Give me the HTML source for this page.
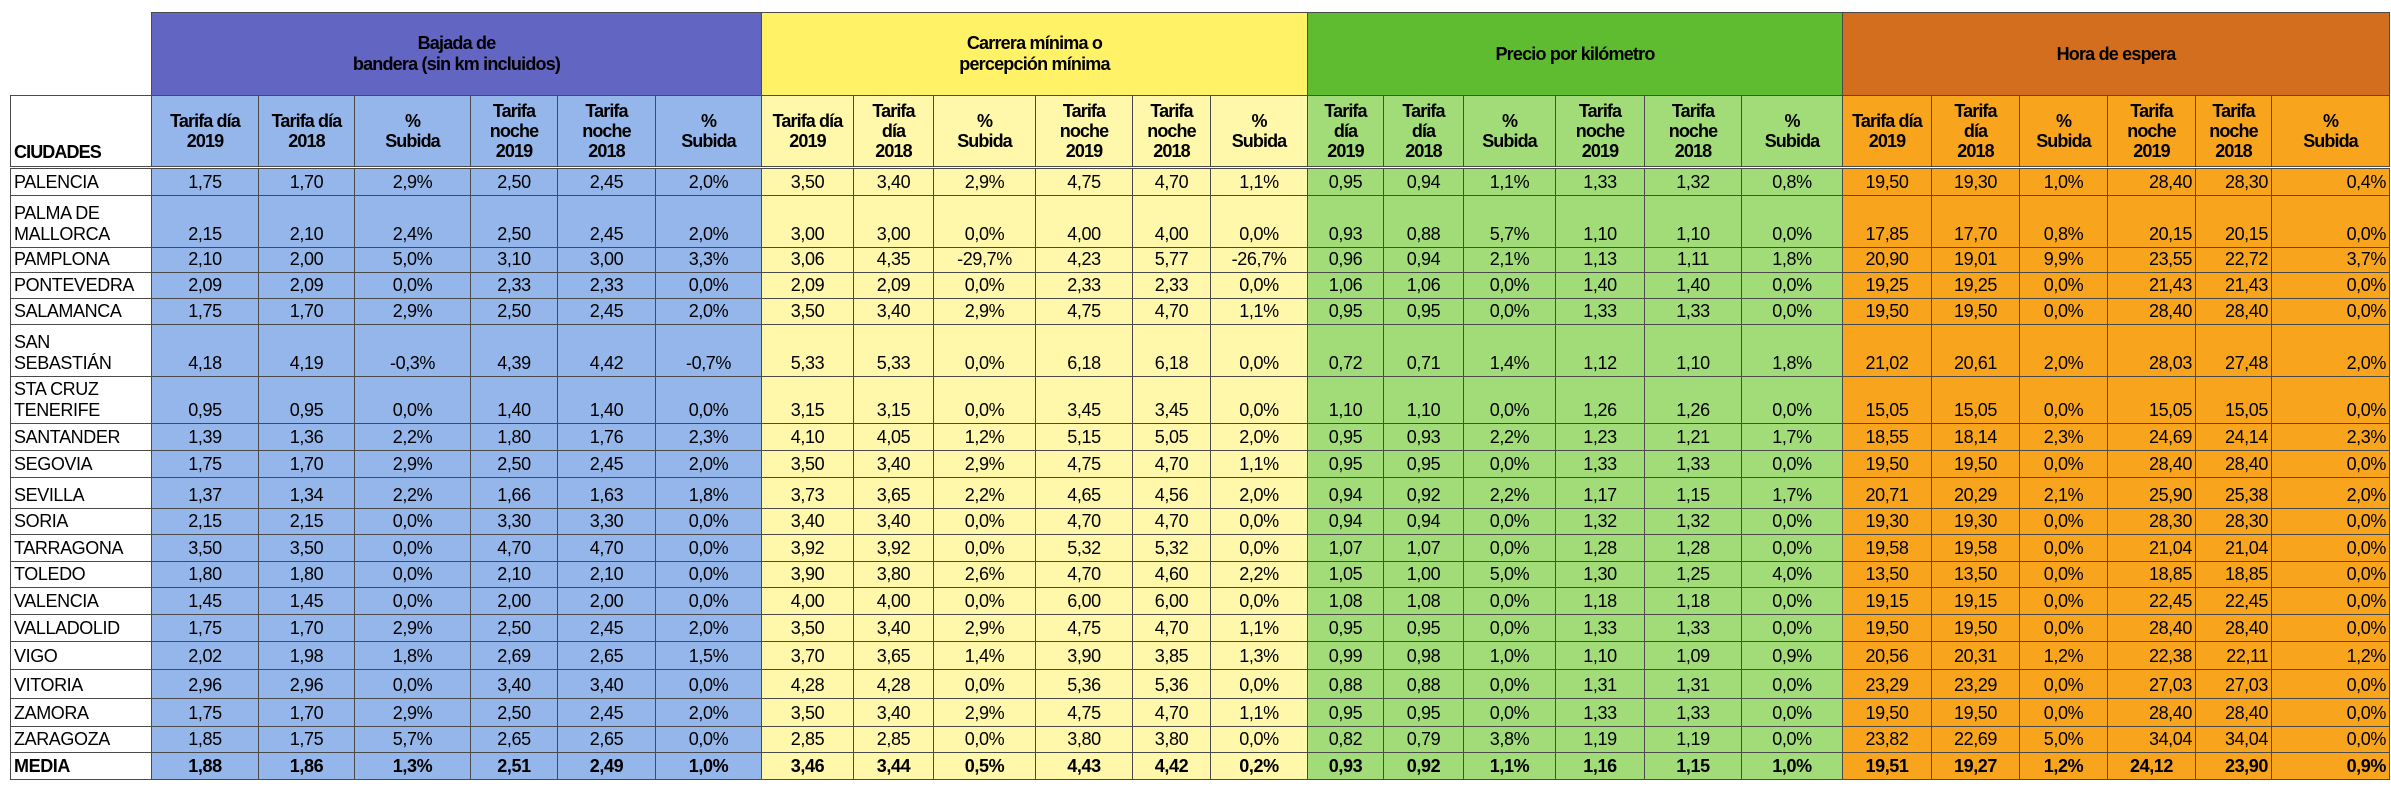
<!DOCTYPE html>
<html><head><meta charset="utf-8">
<style>
html,body{margin:0;padding:0;background:#fff;width:2391px;height:798px;overflow:hidden}
table{position:absolute;left:10px;top:12px;border-collapse:collapse;table-layout:fixed;font-family:"Liberation Sans",Arial,sans-serif;font-size:18px;letter-spacing:-0.4px;color:#000}
td{border:1.5px solid #4a4a4a;padding:0 3px 2px 3px;vertical-align:bottom;text-align:center;line-height:21px;white-space:nowrap;overflow:hidden}
td.c{text-align:left;background:#fff;white-space:nowrap}
tr.g td{height:82px;vertical-align:middle;font-weight:bold;font-size:18px;letter-spacing:-0.8px;padding:0}
tr.h td{height:66px;vertical-align:middle;font-weight:bold;font-size:18px;letter-spacing:-0.9px;line-height:20px;padding:0;border-bottom:3.5px double #4a4a4a}
tr.h td.c{vertical-align:bottom;padding:0 3px 4px 3px}
.b{background:#95b6ea}.y{background:#fff7a9}.gr{background:#a1dc79}.o{background:#f8a51d}
.B{background:#6265c2}.Y{background:#fff266}.G{background:#5fbc31}.O{background:#d46e1f}
td.r{text-align:right}
tr.m td{font-weight:bold}
</style></head><body>
<table>
<colgroup>
<col style="width:141px"><col style="width:107px"><col style="width:96px"><col style="width:116px"><col style="width:87px"><col style="width:98px"><col style="width:106px">
<col style="width:92px"><col style="width:80px"><col style="width:102px"><col style="width:97px"><col style="width:78px"><col style="width:97px">
<col style="width:76px"><col style="width:80px"><col style="width:92px"><col style="width:89px"><col style="width:97px"><col style="width:101px">
<col style="width:89px"><col style="width:88px"><col style="width:88px"><col style="width:88px"><col style="width:76px"><col style="width:118px">
</colgroup>
<tr class="g"><td style="border:none;background:#fff"></td><td colspan="6" class="B">Bajada de<br>bandera (sin km incluidos)</td><td colspan="6" class="Y">Carrera mínima o<br>percepción mínima</td><td colspan="6" class="G">Precio por kilómetro</td><td colspan="6" class="O">Hora de espera</td></tr>
<tr class="h"><td class="c">CIUDADES</td>
<td class="b">Tarifa día<br>2019</td><td class="b">Tarifa día<br>2018</td><td class="b">%<br>Subida</td><td class="b">Tarifa<br>noche<br>2019</td><td class="b">Tarifa<br>noche<br>2018</td><td class="b">%<br>Subida</td>
<td class="y">Tarifa día<br>2019</td><td class="y">Tarifa<br>día<br>2018</td><td class="y">%<br>Subida</td><td class="y">Tarifa<br>noche<br>2019</td><td class="y">Tarifa<br>noche<br>2018</td><td class="y">%<br>Subida</td>
<td class="gr">Tarifa<br>día<br>2019</td><td class="gr">Tarifa<br>día<br>2018</td><td class="gr">%<br>Subida</td><td class="gr">Tarifa<br>noche<br>2019</td><td class="gr">Tarifa<br>noche<br>2018</td><td class="gr">%<br>Subida</td>
<td class="o">Tarifa día<br>2019</td><td class="o">Tarifa<br>día<br>2018</td><td class="o">%<br>Subida</td><td class="o">Tarifa<br>noche<br>2019</td><td class="o">Tarifa<br>noche<br>2018</td><td class="o">%<br>Subida</td></tr>
<tr style="height:28px"><td class="c">PALENCIA</td><td class="b">1,75</td><td class="b">1,70</td><td class="b">2,9%</td><td class="b">2,50</td><td class="b">2,45</td><td class="b">2,0%</td><td class="y">3,50</td><td class="y">3,40</td><td class="y">2,9%</td><td class="y">4,75</td><td class="y">4,70</td><td class="y">1,1%</td><td class="gr">0,95</td><td class="gr">0,94</td><td class="gr">1,1%</td><td class="gr">1,33</td><td class="gr">1,32</td><td class="gr">0,8%</td><td class="o">19,50</td><td class="o">19,30</td><td class="o">1,0%</td><td class="o r">28,40</td><td class="o r">28,30</td><td class="o r">0,4%</td></tr>
<tr style="height:52px"><td class="c">PALMA DE<br>MALLORCA</td><td class="b">2,15</td><td class="b">2,10</td><td class="b">2,4%</td><td class="b">2,50</td><td class="b">2,45</td><td class="b">2,0%</td><td class="y">3,00</td><td class="y">3,00</td><td class="y">0,0%</td><td class="y">4,00</td><td class="y">4,00</td><td class="y">0,0%</td><td class="gr">0,93</td><td class="gr">0,88</td><td class="gr">5,7%</td><td class="gr">1,10</td><td class="gr">1,10</td><td class="gr">0,0%</td><td class="o">17,85</td><td class="o">17,70</td><td class="o">0,8%</td><td class="o r">20,15</td><td class="o r">20,15</td><td class="o r">0,0%</td></tr>
<tr style="height:25px"><td class="c">PAMPLONA</td><td class="b">2,10</td><td class="b">2,00</td><td class="b">5,0%</td><td class="b">3,10</td><td class="b">3,00</td><td class="b">3,3%</td><td class="y">3,06</td><td class="y">4,35</td><td class="y">-29,7%</td><td class="y">4,23</td><td class="y">5,77</td><td class="y">-26,7%</td><td class="gr">0,96</td><td class="gr">0,94</td><td class="gr">2,1%</td><td class="gr">1,13</td><td class="gr">1,11</td><td class="gr">1,8%</td><td class="o">20,90</td><td class="o">19,01</td><td class="o">9,9%</td><td class="o r">23,55</td><td class="o r">22,72</td><td class="o r">3,7%</td></tr>
<tr style="height:26px"><td class="c">PONTEVEDRA</td><td class="b">2,09</td><td class="b">2,09</td><td class="b">0,0%</td><td class="b">2,33</td><td class="b">2,33</td><td class="b">0,0%</td><td class="y">2,09</td><td class="y">2,09</td><td class="y">0,0%</td><td class="y">2,33</td><td class="y">2,33</td><td class="y">0,0%</td><td class="gr">1,06</td><td class="gr">1,06</td><td class="gr">0,0%</td><td class="gr">1,40</td><td class="gr">1,40</td><td class="gr">0,0%</td><td class="o">19,25</td><td class="o">19,25</td><td class="o">0,0%</td><td class="o r">21,43</td><td class="o r">21,43</td><td class="o r">0,0%</td></tr>
<tr style="height:26px"><td class="c">SALAMANCA</td><td class="b">1,75</td><td class="b">1,70</td><td class="b">2,9%</td><td class="b">2,50</td><td class="b">2,45</td><td class="b">2,0%</td><td class="y">3,50</td><td class="y">3,40</td><td class="y">2,9%</td><td class="y">4,75</td><td class="y">4,70</td><td class="y">1,1%</td><td class="gr">0,95</td><td class="gr">0,95</td><td class="gr">0,0%</td><td class="gr">1,33</td><td class="gr">1,33</td><td class="gr">0,0%</td><td class="o">19,50</td><td class="o">19,50</td><td class="o">0,0%</td><td class="o r">28,40</td><td class="o r">28,40</td><td class="o r">0,0%</td></tr>
<tr style="height:52px"><td class="c">SAN<br>SEBASTIÁN</td><td class="b">4,18</td><td class="b">4,19</td><td class="b">-0,3%</td><td class="b">4,39</td><td class="b">4,42</td><td class="b">-0,7%</td><td class="y">5,33</td><td class="y">5,33</td><td class="y">0,0%</td><td class="y">6,18</td><td class="y">6,18</td><td class="y">0,0%</td><td class="gr">0,72</td><td class="gr">0,71</td><td class="gr">1,4%</td><td class="gr">1,12</td><td class="gr">1,10</td><td class="gr">1,8%</td><td class="o">21,02</td><td class="o">20,61</td><td class="o">2,0%</td><td class="o r">28,03</td><td class="o r">27,48</td><td class="o r">2,0%</td></tr>
<tr style="height:47px"><td class="c">STA CRUZ<br>TENERIFE</td><td class="b">0,95</td><td class="b">0,95</td><td class="b">0,0%</td><td class="b">1,40</td><td class="b">1,40</td><td class="b">0,0%</td><td class="y">3,15</td><td class="y">3,15</td><td class="y">0,0%</td><td class="y">3,45</td><td class="y">3,45</td><td class="y">0,0%</td><td class="gr">1,10</td><td class="gr">1,10</td><td class="gr">0,0%</td><td class="gr">1,26</td><td class="gr">1,26</td><td class="gr">0,0%</td><td class="o">15,05</td><td class="o">15,05</td><td class="o">0,0%</td><td class="o r">15,05</td><td class="o r">15,05</td><td class="o r">0,0%</td></tr>
<tr style="height:27px"><td class="c">SANTANDER</td><td class="b">1,39</td><td class="b">1,36</td><td class="b">2,2%</td><td class="b">1,80</td><td class="b">1,76</td><td class="b">2,3%</td><td class="y">4,10</td><td class="y">4,05</td><td class="y">1,2%</td><td class="y">5,15</td><td class="y">5,05</td><td class="y">2,0%</td><td class="gr">0,95</td><td class="gr">0,93</td><td class="gr">2,2%</td><td class="gr">1,23</td><td class="gr">1,21</td><td class="gr">1,7%</td><td class="o">18,55</td><td class="o">18,14</td><td class="o">2,3%</td><td class="o r">24,69</td><td class="o r">24,14</td><td class="o r">2,3%</td></tr>
<tr style="height:27px"><td class="c">SEGOVIA</td><td class="b">1,75</td><td class="b">1,70</td><td class="b">2,9%</td><td class="b">2,50</td><td class="b">2,45</td><td class="b">2,0%</td><td class="y">3,50</td><td class="y">3,40</td><td class="y">2,9%</td><td class="y">4,75</td><td class="y">4,70</td><td class="y">1,1%</td><td class="gr">0,95</td><td class="gr">0,95</td><td class="gr">0,0%</td><td class="gr">1,33</td><td class="gr">1,33</td><td class="gr">0,0%</td><td class="o">19,50</td><td class="o">19,50</td><td class="o">0,0%</td><td class="o r">28,40</td><td class="o r">28,40</td><td class="o r">0,0%</td></tr>
<tr style="height:31px"><td class="c">SEVILLA</td><td class="b">1,37</td><td class="b">1,34</td><td class="b">2,2%</td><td class="b">1,66</td><td class="b">1,63</td><td class="b">1,8%</td><td class="y">3,73</td><td class="y">3,65</td><td class="y">2,2%</td><td class="y">4,65</td><td class="y">4,56</td><td class="y">2,0%</td><td class="gr">0,94</td><td class="gr">0,92</td><td class="gr">2,2%</td><td class="gr">1,17</td><td class="gr">1,15</td><td class="gr">1,7%</td><td class="o">20,71</td><td class="o">20,29</td><td class="o">2,1%</td><td class="o r">25,90</td><td class="o r">25,38</td><td class="o r">2,0%</td></tr>
<tr style="height:26px"><td class="c">SORIA</td><td class="b">2,15</td><td class="b">2,15</td><td class="b">0,0%</td><td class="b">3,30</td><td class="b">3,30</td><td class="b">0,0%</td><td class="y">3,40</td><td class="y">3,40</td><td class="y">0,0%</td><td class="y">4,70</td><td class="y">4,70</td><td class="y">0,0%</td><td class="gr">0,94</td><td class="gr">0,94</td><td class="gr">0,0%</td><td class="gr">1,32</td><td class="gr">1,32</td><td class="gr">0,0%</td><td class="o">19,30</td><td class="o">19,30</td><td class="o">0,0%</td><td class="o r">28,30</td><td class="o r">28,30</td><td class="o r">0,0%</td></tr>
<tr style="height:27px"><td class="c">TARRAGONA</td><td class="b">3,50</td><td class="b">3,50</td><td class="b">0,0%</td><td class="b">4,70</td><td class="b">4,70</td><td class="b">0,0%</td><td class="y">3,92</td><td class="y">3,92</td><td class="y">0,0%</td><td class="y">5,32</td><td class="y">5,32</td><td class="y">0,0%</td><td class="gr">1,07</td><td class="gr">1,07</td><td class="gr">0,0%</td><td class="gr">1,28</td><td class="gr">1,28</td><td class="gr">0,0%</td><td class="o">19,58</td><td class="o">19,58</td><td class="o">0,0%</td><td class="o r">21,04</td><td class="o r">21,04</td><td class="o r">0,0%</td></tr>
<tr style="height:26px"><td class="c">TOLEDO</td><td class="b">1,80</td><td class="b">1,80</td><td class="b">0,0%</td><td class="b">2,10</td><td class="b">2,10</td><td class="b">0,0%</td><td class="y">3,90</td><td class="y">3,80</td><td class="y">2,6%</td><td class="y">4,70</td><td class="y">4,60</td><td class="y">2,2%</td><td class="gr">1,05</td><td class="gr">1,00</td><td class="gr">5,0%</td><td class="gr">1,30</td><td class="gr">1,25</td><td class="gr">4,0%</td><td class="o">13,50</td><td class="o">13,50</td><td class="o">0,0%</td><td class="o r">18,85</td><td class="o r">18,85</td><td class="o r">0,0%</td></tr>
<tr style="height:27px"><td class="c">VALENCIA</td><td class="b">1,45</td><td class="b">1,45</td><td class="b">0,0%</td><td class="b">2,00</td><td class="b">2,00</td><td class="b">0,0%</td><td class="y">4,00</td><td class="y">4,00</td><td class="y">0,0%</td><td class="y">6,00</td><td class="y">6,00</td><td class="y">0,0%</td><td class="gr">1,08</td><td class="gr">1,08</td><td class="gr">0,0%</td><td class="gr">1,18</td><td class="gr">1,18</td><td class="gr">0,0%</td><td class="o">19,15</td><td class="o">19,15</td><td class="o">0,0%</td><td class="o r">22,45</td><td class="o r">22,45</td><td class="o r">0,0%</td></tr>
<tr style="height:27px"><td class="c">VALLADOLID</td><td class="b">1,75</td><td class="b">1,70</td><td class="b">2,9%</td><td class="b">2,50</td><td class="b">2,45</td><td class="b">2,0%</td><td class="y">3,50</td><td class="y">3,40</td><td class="y">2,9%</td><td class="y">4,75</td><td class="y">4,70</td><td class="y">1,1%</td><td class="gr">0,95</td><td class="gr">0,95</td><td class="gr">0,0%</td><td class="gr">1,33</td><td class="gr">1,33</td><td class="gr">0,0%</td><td class="o">19,50</td><td class="o">19,50</td><td class="o">0,0%</td><td class="o r">28,40</td><td class="o r">28,40</td><td class="o r">0,0%</td></tr>
<tr style="height:28px"><td class="c">VIGO</td><td class="b">2,02</td><td class="b">1,98</td><td class="b">1,8%</td><td class="b">2,69</td><td class="b">2,65</td><td class="b">1,5%</td><td class="y">3,70</td><td class="y">3,65</td><td class="y">1,4%</td><td class="y">3,90</td><td class="y">3,85</td><td class="y">1,3%</td><td class="gr">0,99</td><td class="gr">0,98</td><td class="gr">1,0%</td><td class="gr">1,10</td><td class="gr">1,09</td><td class="gr">0,9%</td><td class="o">20,56</td><td class="o">20,31</td><td class="o">1,2%</td><td class="o r">22,38</td><td class="o r">22,11</td><td class="o r">1,2%</td></tr>
<tr style="height:29px"><td class="c">VITORIA</td><td class="b">2,96</td><td class="b">2,96</td><td class="b">0,0%</td><td class="b">3,40</td><td class="b">3,40</td><td class="b">0,0%</td><td class="y">4,28</td><td class="y">4,28</td><td class="y">0,0%</td><td class="y">5,36</td><td class="y">5,36</td><td class="y">0,0%</td><td class="gr">0,88</td><td class="gr">0,88</td><td class="gr">0,0%</td><td class="gr">1,31</td><td class="gr">1,31</td><td class="gr">0,0%</td><td class="o">23,29</td><td class="o">23,29</td><td class="o">0,0%</td><td class="o r">27,03</td><td class="o r">27,03</td><td class="o r">0,0%</td></tr>
<tr style="height:28px"><td class="c">ZAMORA</td><td class="b">1,75</td><td class="b">1,70</td><td class="b">2,9%</td><td class="b">2,50</td><td class="b">2,45</td><td class="b">2,0%</td><td class="y">3,50</td><td class="y">3,40</td><td class="y">2,9%</td><td class="y">4,75</td><td class="y">4,70</td><td class="y">1,1%</td><td class="gr">0,95</td><td class="gr">0,95</td><td class="gr">0,0%</td><td class="gr">1,33</td><td class="gr">1,33</td><td class="gr">0,0%</td><td class="o">19,50</td><td class="o">19,50</td><td class="o">0,0%</td><td class="o r">28,40</td><td class="o r">28,40</td><td class="o r">0,0%</td></tr>
<tr style="height:26px"><td class="c">ZARAGOZA</td><td class="b">1,85</td><td class="b">1,75</td><td class="b">5,7%</td><td class="b">2,65</td><td class="b">2,65</td><td class="b">0,0%</td><td class="y">2,85</td><td class="y">2,85</td><td class="y">0,0%</td><td class="y">3,80</td><td class="y">3,80</td><td class="y">0,0%</td><td class="gr">0,82</td><td class="gr">0,79</td><td class="gr">3,8%</td><td class="gr">1,19</td><td class="gr">1,19</td><td class="gr">0,0%</td><td class="o">23,82</td><td class="o">22,69</td><td class="o">5,0%</td><td class="o r">34,04</td><td class="o r">34,04</td><td class="o r">0,0%</td></tr>
<tr class="m" style="height:27px"><td class="c">MEDIA</td><td class="b">1,88</td><td class="b">1,86</td><td class="b">1,3%</td><td class="b">2,51</td><td class="b">2,49</td><td class="b">1,0%</td><td class="y">3,46</td><td class="y">3,44</td><td class="y">0,5%</td><td class="y">4,43</td><td class="y">4,42</td><td class="y">0,2%</td><td class="gr">0,93</td><td class="gr">0,92</td><td class="gr">1,1%</td><td class="gr">1,16</td><td class="gr">1,15</td><td class="gr">1,0%</td><td class="o">19,51</td><td class="o">19,27</td><td class="o">1,2%</td><td class="o">24,12</td><td class="o r">23,90</td><td class="o r">0,9%</td></tr>
</table>
</body></html>
